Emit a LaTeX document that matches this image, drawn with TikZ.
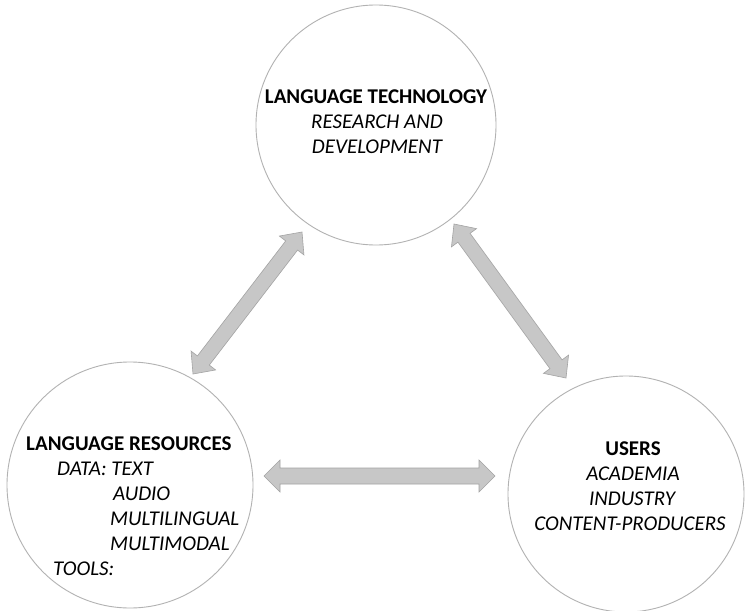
\documentclass[tikz,border=0pt]{standalone}
\usepackage{fontspec}
\setmainfont{Carlito}
\usetikzlibrary{calc}
\tikzset{
  bubble/.style={circle, draw=black!30, line width=0.9pt, fill=white, minimum size=#1, inner sep=0pt},
  headtxt/.style={font=\bfseries\fontsize{21}{25}\selectfont, inner sep=0pt, anchor=base},
  itemtxt/.style={font=\itshape\fontsize{21}{25}\selectfont, inner sep=0pt, anchor=base},
  headw/.style={headtxt, anchor=base west},
  itemw/.style={itemtxt, anchor=base west},
  fatarr/.style={fill=black!22, draw=black!36, line width=0.6pt, line join=miter},
}
\newcommand\fatarrow[5]{%
  \draw[fatarr] (#1)
    -- ($(#1)!#3!(#2)!#4!90:(#2)$)
    -- ($(#1)!#3!(#2)!#5!90:(#2)$)
    -- ($(#2)!#3!(#1)!#5!-90:(#1)$)
    -- ($(#2)!#3!(#1)!#4!-90:(#1)$)
    -- (#2)
    -- ($(#2)!#3!(#1)!#4!90:(#1)$)
    -- ($(#2)!#3!(#1)!#5!90:(#1)$)
    -- ($(#1)!#3!(#2)!#5!-90:(#2)$)
    -- ($(#1)!#3!(#2)!#4!-90:(#2)$)
    -- cycle;}
\begin{document}
\begin{tikzpicture}[x=1pt,y=-1pt]
\useasboundingbox[fill=white] (0,0) rectangle (749,610);
% circles
\node[bubble=240pt] (tech) at (376,125) {};
\node[bubble=246pt] (res) at (130,485) {};
\node[bubble=236pt] (users) at (626,494) {};
% arrow end points
\coordinate (lt1) at (193,374);
\coordinate (lt2) at (302,232);
\coordinate (rt1) at (454,224);
\coordinate (rt2) at (566,378);
\coordinate (h1) at (264,476);
\coordinate (h2) at (495,476);
\fatarrow{lt1}{lt2}{17pt}{15.5pt}{7.5pt}
\fatarrow{rt1}{rt2}{17pt}{15.5pt}{7.5pt}
\fatarrow{h1}{h2}{16pt}{16pt}{8pt}
% top text
\node[headtxt] (t1) at (376,103) {LANGUAGE TECHNOLOGY};
\node[itemtxt] (t2) at (377,128) {RESEARCH AND};
\node[itemtxt] (t3) at (377,153) {DEVELOPMENT};
% left text
\node[headw] (l1) at (26,450) {LANGUAGE RESOURCES};
\node[itemw] (l2) at (57,475) {DATA: TEXT};
\node[itemw] (l3) at (113,500) {AUDIO};
\node[itemw] (l4) at (110,525) {MULTILINGUAL};
\node[itemw] (l5) at (110,550) {MULTIMODAL};
\node[itemw] (l6) at (53,575) {TOOLS:};
% right text
\node[headtxt] (u1) at (633,455) {USERS};
\node[itemtxt] (u2) at (633,480) {ACADEMIA};
\node[itemtxt] (u3) at (632,505) {INDUSTRY};
\node[itemtxt] (u4) at (630,530) {CONTENT-PRODUCERS};
\end{tikzpicture}
\end{document}
